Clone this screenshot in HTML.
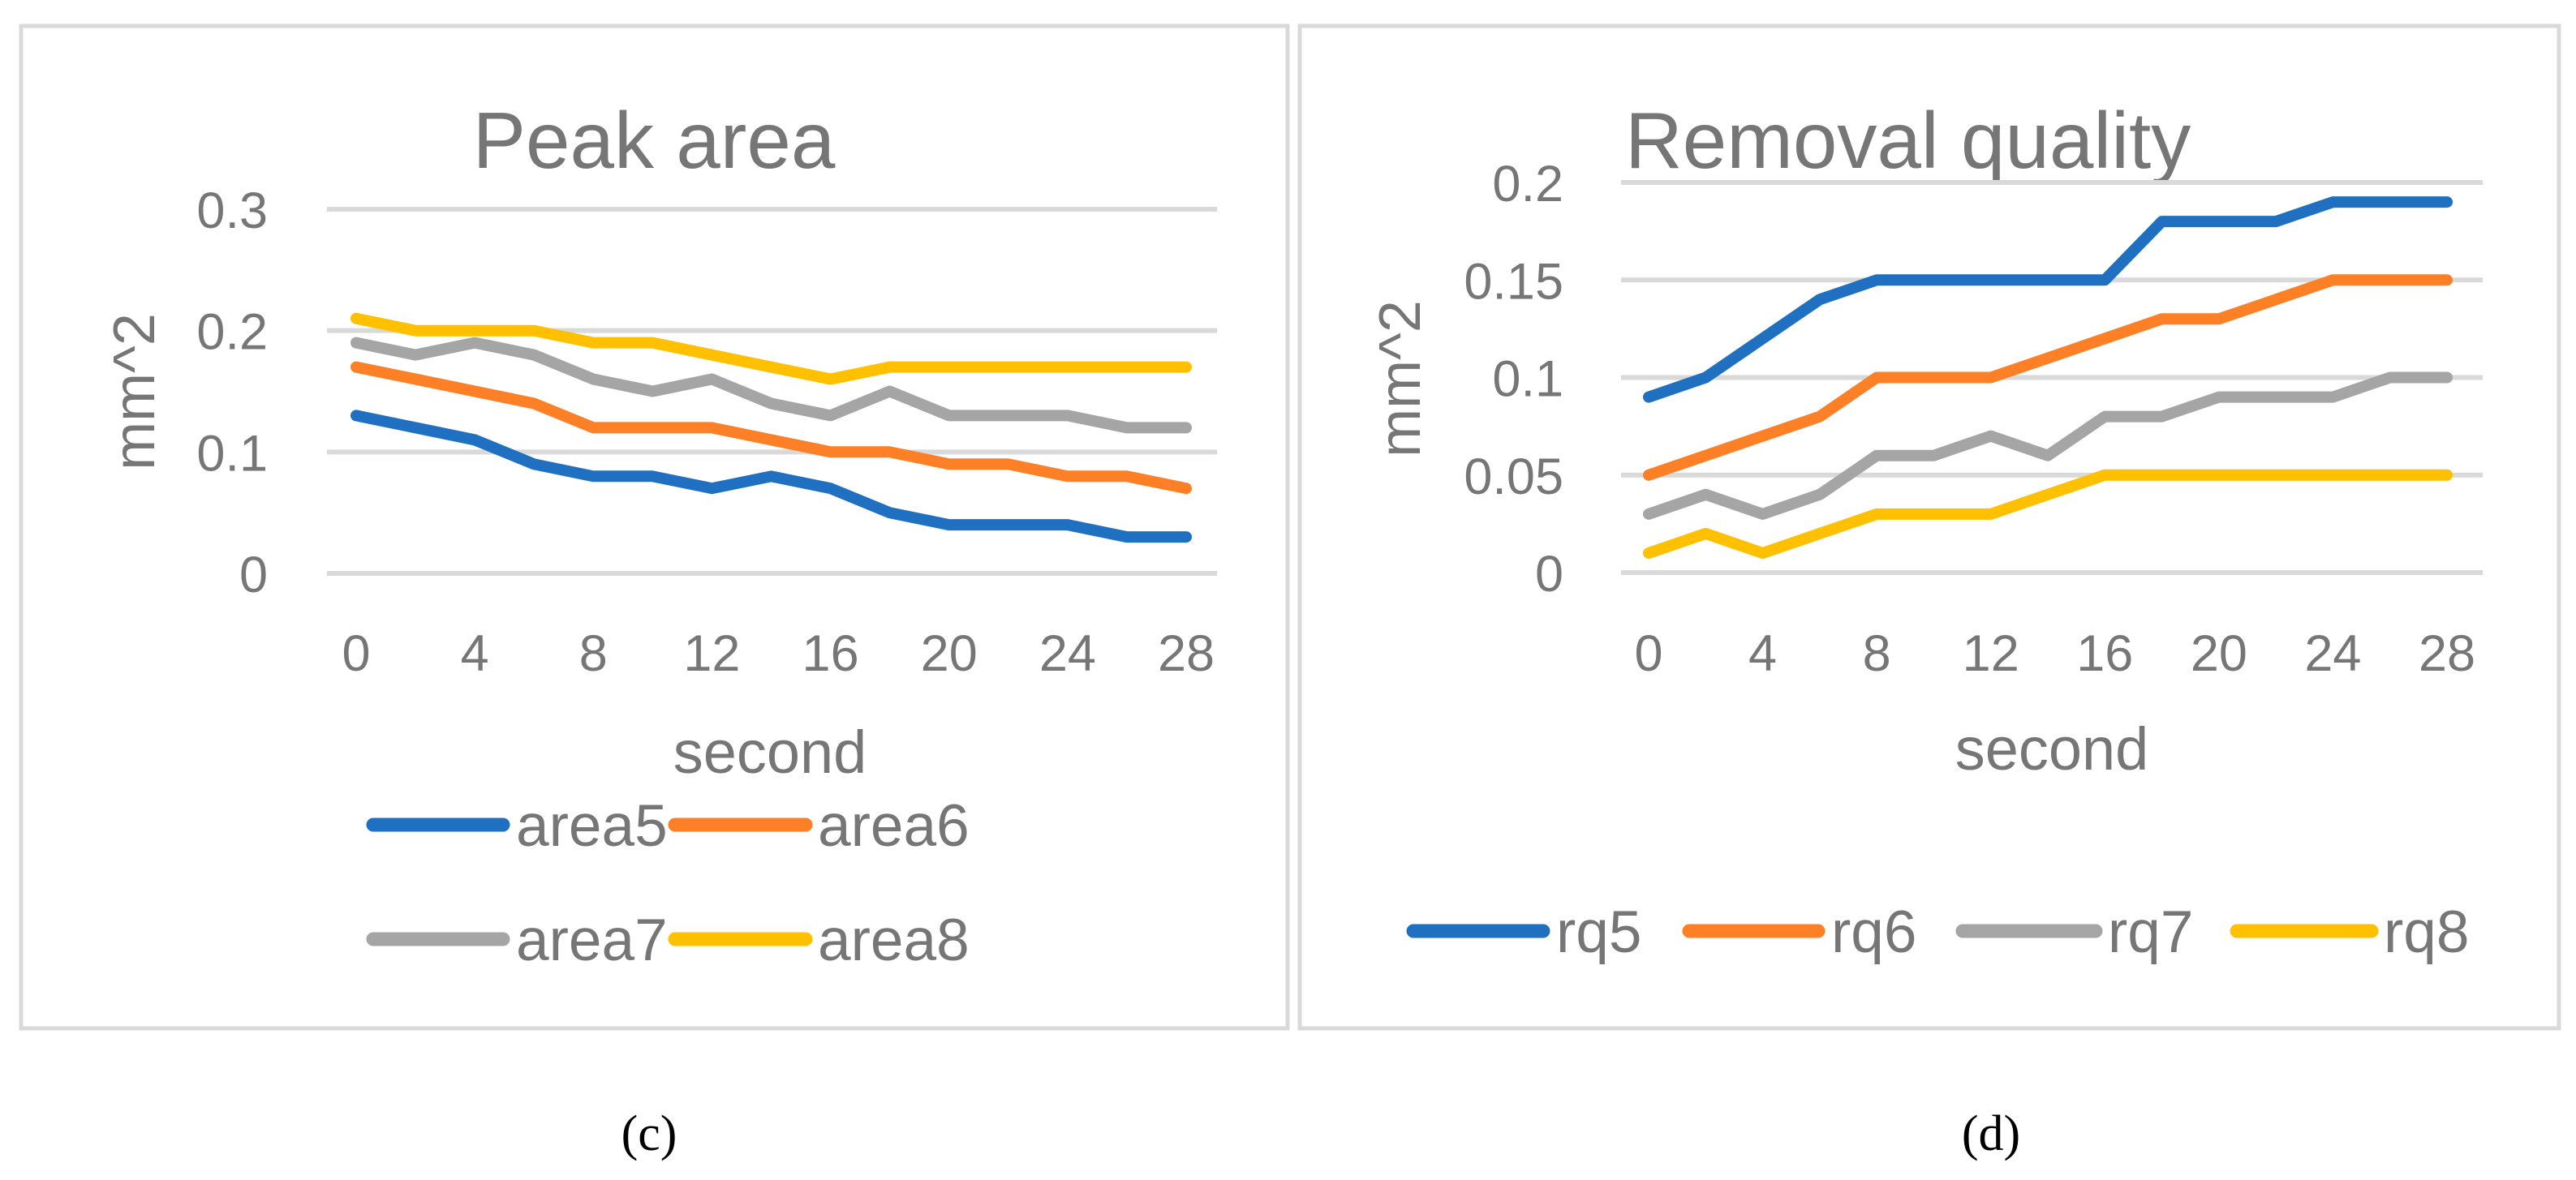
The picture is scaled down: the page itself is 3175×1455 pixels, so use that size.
<!DOCTYPE html>
<html><head><meta charset="utf-8"><style>
html,body{margin:0;padding:0;background:#fff;}
svg{display:block;}
text{font-family:"Liberation Sans",sans-serif;fill:#767676;}
</style></head><body>
<svg id="s" width="3175" height="1455" viewBox="0 0 3175 1455" xmlns="http://www.w3.org/2000/svg">
<rect x="26" y="32" width="1561" height="1236" fill="#fff" stroke="#d9d9d9" stroke-width="5"/>
<rect x="1602" y="32" width="1552" height="1236" fill="#fff" stroke="#d9d9d9" stroke-width="5"/>
<text x="806" y="207" font-size="98" text-anchor="middle">Peak area</text>
<text x="2003" y="207" font-size="98">Removal quality</text>
<text transform="translate(190,483) rotate(-90)" font-size="72" text-anchor="middle">mm^2</text>
<text transform="translate(1750,467) rotate(-90)" font-size="72" text-anchor="middle">mm^2</text>
<text x="949" y="953" font-size="74" text-anchor="middle">second</text>
<text x="2529" y="949" font-size="74" text-anchor="middle">second</text>
<text x="800" y="1418" font-size="62" text-anchor="middle" style="font-family:'Liberation Serif',serif;fill:#000">(c)</text>
<text x="2454" y="1418" font-size="62" text-anchor="middle" style="font-family:'Liberation Serif',serif;fill:#000">(d)</text>
<g id="gc"></g><g id="gd"></g>
</svg>
<script>
const xs=[0,2,4,6,8,10,12,14,16,18,20,22,24,26,28];
const xTicks=[0,4,8,12,16,20,24,28];
const cTicks=[0,0.1,0.2,0.3];
const dTicks=[0,0.05,0.1,0.15,0.2];
const area5=[0.13,0.12,0.11,0.09,0.08,0.08,0.07,0.08,0.07,0.05,0.04,0.04,0.04,0.03,0.03];
const area6=[0.17,0.16,0.15,0.14,0.12,0.12,0.12,0.11,0.10,0.10,0.09,0.09,0.08,0.08,0.07];
const area7=[0.19,0.18,0.19,0.18,0.16,0.15,0.16,0.14,0.13,0.15,0.13,0.13,0.13,0.12,0.12];
const area8=[0.21,0.20,0.20,0.20,0.19,0.19,0.18,0.17,0.16,0.17,0.17,0.17,0.17,0.17,0.17];
const rq5=[0.09,0.10,0.12,0.14,0.15,0.15,0.15,0.15,0.15,0.18,0.18,0.18,0.19,0.19,0.19];
const rq6=[0.05,0.06,0.07,0.08,0.10,0.10,0.10,0.11,0.12,0.13,0.13,0.14,0.15,0.15,0.15];
const rq7=[0.03,0.04,0.03,0.04,0.06,0.06,0.07,0.06,0.08,0.08,0.09,0.09,0.09,0.10,0.10];
const rq8=[0.01,0.02,0.01,0.02,0.03,0.03,0.03,0.04,0.05,0.05,0.05,0.05,0.05,0.05,0.05];
const colors=['#1f70c1','#fd7f26','#a5a5a5','#ffc000'];
const NS='http://www.w3.org/2000/svg';
function mk(p,tag,at){const e=document.createElementNS(NS,tag);for(const k in at)e.setAttribute(k,at[k]);p.appendChild(e);return e;}
function chart(g,cfg){
  const sx=v=>cfg.x0+(v-0)/(28-0)*(cfg.x1-cfg.x0);
  const sy=v=>cfg.y0-(v/cfg.ymax)*(cfg.y0-cfg.ytop);
  cfg.yt.forEach(t=>{
    const l=mk(g,'line',{x1:cfg.gx0,x2:cfg.gx1,y1:sy(t),y2:sy(t),stroke:'#d9d9d9','stroke-width':6});
    
    
    const tx=mk(g,'text',{x:cfg.lx,y:sy(t)+23,'font-size':63,'text-anchor':'end'});
    tx.textContent=String(t);
    
    
  });
  xTicks.forEach(t=>{
    const tx=mk(g,'text',{x:sx(t),y:827,'font-size':63,'text-anchor':'middle'});
    tx.textContent=String(t);
    
    
  });
  cfg.series.forEach((s,i)=>{
    const pts=s.map((v,j)=>sx(xs[j]).toFixed(1)+','+sy(v).toFixed(1)).join(' ');
    const pl=mk(g,'polyline',{points:pts,fill:'none',stroke:colors[i],'stroke-width':14,'stroke-linejoin':'round','stroke-linecap':'round'});
    
    
    const lg=cfg.leg[i];
    const ll=mk(g,'line',{x1:lg[0],x2:lg[1],y1:lg[2],y2:lg[2],stroke:colors[i],'stroke-width':17,'stroke-linecap':'round'});
    
    
    const lt=mk(g,'text',{x:lg[3],y:lg[2]+26,'font-size':73});
    lt.textContent=cfg.names[i];
    
    
  });
}
chart(document.getElementById('gc'),{x0:439,x1:1462,y0:707,ytop:258,ymax:0.3,gx0:403,gx1:1500,lx:330,yt:cTicks,
  series:[area5,area6,area7,area8],names:['area5','area6','area7','area8'],
  leg:[[460,620,1017,636],[832,993,1017,1008],[460,620,1158,636],[832,993,1158,1008]]});
chart(document.getElementById('gd'),{x0:2032,x1:3016,y0:706,ytop:225,ymax:0.2,gx0:1998,gx1:3060,lx:1927,yt:dTicks,
  series:[rq5,rq6,rq7,rq8],names:['rq5','rq6','rq7','rq8'],
  leg:[[1742,1902,1148,1918],[2082,2241,1148,2257],[2419,2583,1148,2598],[2757,2923,1148,2938]]});
</script>
</body></html>
